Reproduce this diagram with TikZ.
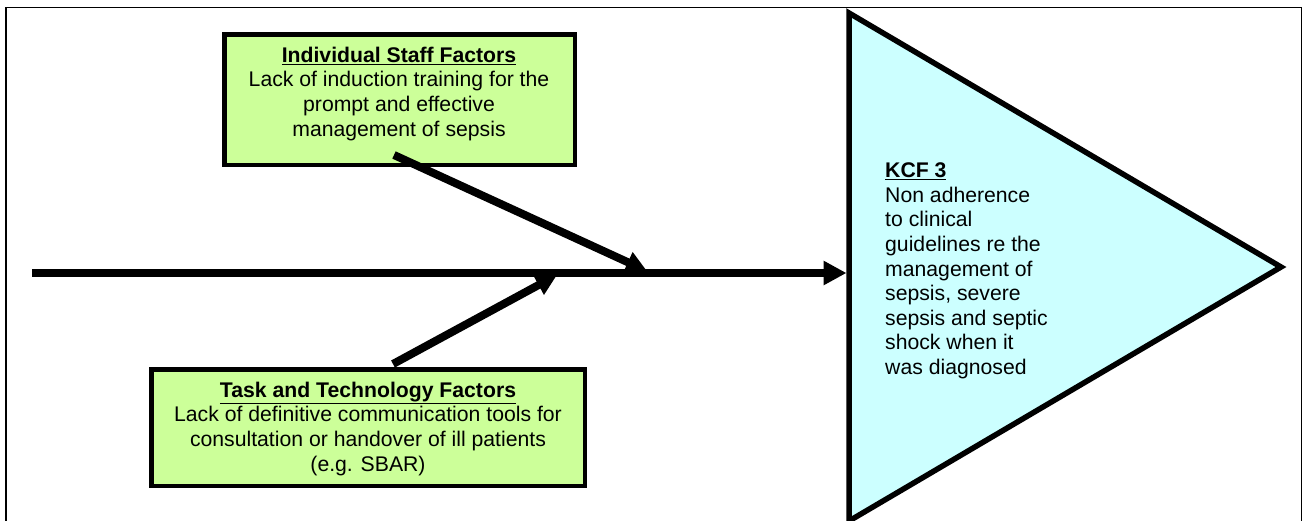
\documentclass[tikz,border=0pt]{standalone}
\usepackage{fontspec}
\setmainfont{Liberation Sans}
\usetikzlibrary{arrows.meta}
\definecolor{boxgreen}{HTML}{CCFF99}
\definecolor{kcfcyan}{HTML}{CCFFFF}
\tikzset{
  factorbox/.style={draw=black, line width=4.5pt, fill=boxgreen},
  bone/.style={line width=8pt, line cap=butt, -{Triangle[length=21pt,width=21pt]}},
  spine/.style={line width=8pt, line cap=butt, -{Triangle[length=23pt,width=23pt]}},
  txt/.style={font=\fontsize{21.2}{24.6}\selectfont, inner sep=0pt, align=center},
}
\begin{document}
\begin{tikzpicture}[x=1pt,y=-1pt]
\useasboundingbox (0,0) rectangle (1303,520);
\fill[white] (0,0) rectangle (1303,520);
% outer frame
\draw[line width=1.5pt] (6,530) -- (6,7.5) -- (1301.5,7.5) -- (1301.5,530);
% boxes
\draw[factorbox] (224.25,34.25) rectangle (574.75,164.75);
\coordinate (isf) at (399.5,99.5);
\draw[factorbox] (151.25,369.25) rectangle (584.75,485.75);
\coordinate (ttf) at (368,427.5);
% KCF triangle
\draw[line width=5.5pt, fill=kcfcyan, line join=miter] (849,13) -- (1281,267) -- (849,521) -- cycle;
\coordinate (kcf) at (846.5,273);
% texts
\node[txt, anchor=north] (isft) at (399,46.7)
  {\underline{\textbf{Individual Staff Factors}}\\Lack of induction training for the\\prompt and effective\\management of sepsis};
\node[txt, anchor=north] (ttft) at (368,381.7)
  {\underline{\textbf{Task and Technology Factors}}\\Lack of definitive communication tools for\\consultation or handover of ill patients\\(e.g. SBAR)};
\node[txt, align=left, anchor=north west] (kcft) at (885,162.7)
  {\underline{\textbf{KCF 3}}\\Non adherence\\to clinical\\guidelines re the\\management of\\sepsis, severe\\sepsis and septic\\shock when it\\was diagnosed};
% spine and bones
\coordinate (spinestart) at (32,273);
\coordinate (topjoin) at (647,271);
\coordinate (botjoin) at (557,275);
\coordinate (topbone) at (394,155);
\coordinate (botbone) at (393,364);
\draw[spine] (spinestart) -- (kcf);
\draw[bone] (topbone) -- (topjoin);
\draw[bone] (botbone) -- (botjoin);
\end{tikzpicture}
\end{document}
